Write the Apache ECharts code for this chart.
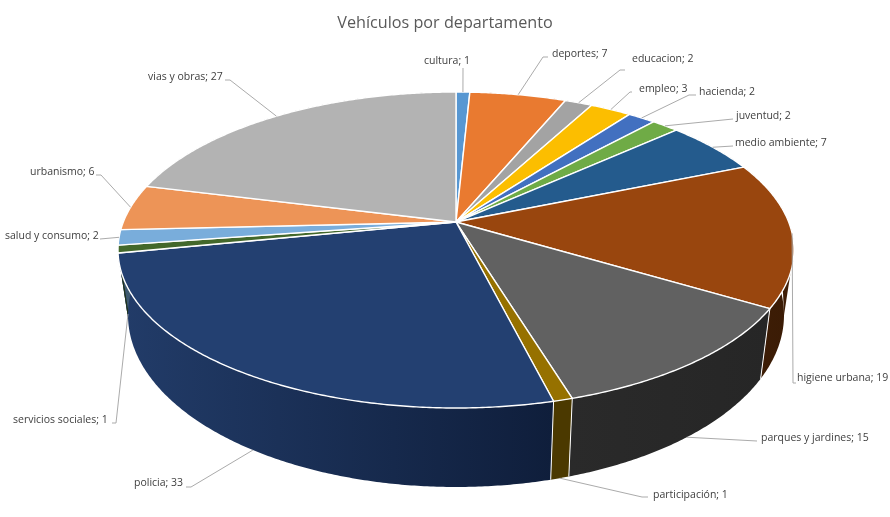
<!DOCTYPE html>
<html><head><meta charset="utf-8">
<style>html,body{margin:0;padding:0;background:#fff}#c{width:890px;height:517px}</style>
<script src="https://cdn.jsdelivr.net/npm/echarts@6/dist/echarts.min.js"></script>
</head><body><div id="c"></div>
<script>
// DATA
const departments = ['cultura','deportes','educacion','empleo','hacienda','juventud','medio ambiente','higiene urbana','parques y jardines','participación','policia','servicios sociales','salud y consumo','urbanismo','vias y obras'];
const vehicles = [1,7,2,3,2,2,7,19,15,1,33,1,2,6,27];
const chartTitle = 'Vehículos por departamento';

// STYLE
const topColors = ['#5797D2','#E97A30','#A3A3A3','#FCBE00','#4270C0','#6FAB46','#245B8D','#99460E','#616161','#967100','#234071','#43682B','#79ADDB','#ED9457','#B3B3B3'];
const wallColors = [['#2f5070','#2f5070'],['#7a3f18','#7a3f18'],['#555555','#555555'],['#806000','#806000'],['#223a64','#223a64'],['#38581f','#38581f'],['#12304a','#12304a'],['#3F1E06','#3A1B05'],['#2A2A2A','#262626'],['#4B3900','#4B3900'],['#223C69','#0F1E3B'],['#21351a','#21351a'],['#3e5a70','#3e5a70'],['#7a4b2d','#7a4b2d'],['#5c5c5c','#5c5c5c']];

// LAYOUT (perspective pie geometry + label placement)
const apexOffset = -0.177;
const topRim = {cx:456, cy:250, rx:338, ry:158};
const bottomRim = {cx:456, cy:315, rx:328, ry:172};
const labelX = [424,552,632,639,699,736,735,797,761,653,134,13,5,30,148];
const labelY = [61,54,59,89,92,116,143,378,438,495,483,420,236,172,77];
const labelElbows = [
  [[463,68]],
  [[548,57],[543,57]],
  [[625,70],[620,70]],
  [[632,92],[630,92]],
  [[696,95],[689,95]],
  [[733,119]],
  [[733,146]],
  [[796,383],[793,383]],
  [[757,441]],
  [[648,497],[642,497]],
  [[186,487],[191,487]],
  [[112,423],[116,423]],
  [[100,239]],
  [[96,175],[101,175]],
  [[225,80],[230,80]]
];
const labelFont = '10.5px "Open Sans"';

const total = vehicles.reduce((a,b)=>a+b,0);
const cumulative = vehicles.reduce((acc,v)=>{acc.push(acc[acc.length-1]+v);return acc;},[0]);

function project(value, rim){
  const t = value/total*2*Math.PI;
  const X = Math.sin(t), Y = -Math.cos(t), d = 1+apexOffset*Y;
  const u = X*Math.sqrt(1-apexOffset*apexOffset)/d, v = (Y+apexOffset)/d;
  return {p:[rim.cx+rim.rx*u, rim.cy+rim.ry*v], v:v};
}
function steps(i){
  const out=[], a=cumulative[i], b=cumulative[i+1], n=Math.max(4,Math.ceil((b-a)*6));
  for(let k=0;k<=n;k++) out.push(a+(b-a)*k/n);
  return out;
}
function arc(i, rim){ return steps(i).map(s=>project(s,rim).p); }
function apex(){ return [topRim.cx, topRim.cy+topRim.ry*apexOffset]; }

const chart = echarts.init(document.getElementById('c'),null,{renderer:'canvas'});
chart.setOption({
  animation:false,
  backgroundColor:'#fff',
  title:{text:chartTitle,left:'center',top:10,textStyle:{fontFamily:'Open Sans',fontSize:16.2,fontWeight:'normal',color:'#595959'}},
  series:[
    {type:'custom',coordinateSystem:'none',silent:true,z:1,data:vehicles,
      renderItem(params){
        const i=params.dataIndex, st=steps(i);
        const up=arc(i,topRim), low=arc(i,bottomRim), children=[];
        // silhouette filler where the wall turns at the far left / far right of the disc
        const vs=st.map(s=>project(s,topRim).v);
        let k0=-1, k1=-1;
        vs.forEach((v,k)=>{ if(k0<0||Math.abs(v)<Math.abs(vs[k0])) k0=k; if(v>0.25&&v<0.45&&k1<0) k1=k; });
        if(Math.abs(vs[k0])<0.1&&k1>=0){
          children.push({type:'polygon',shape:{points:[up[k0],low[k0],up[k1]]},style:{fill:wallColors[i][0]}});
        }
        children.push({type:'polygon',shape:{points:up.concat(low.slice().reverse())},style:{
          fill:new echarts.graphic.LinearGradient(0,0,1,0,[{offset:0,color:wallColors[i][0]},{offset:1,color:wallColors[i][1]}])}});
        if(vs[0]>0.02){
          children.push({type:'line',shape:{x1:up[0][0],y1:up[0][1],x2:low[0][0],y2:low[0][1]},style:{stroke:'#fff',lineWidth:1}});
        }
        return {type:'group',children};
      }},
    {type:'custom',coordinateSystem:'none',silent:true,z:2,data:vehicles,
      renderItem(params){
        const i=params.dataIndex;
        return {type:'polygon',shape:{points:[apex()].concat(arc(i,topRim))},style:{fill:topColors[i],stroke:'#fff',lineWidth:1.4,lineJoin:'round'}};
      }},
    {type:'custom',coordinateSystem:'none',silent:true,z:3,data:vehicles,
      renderItem(params,api){
        const i=params.dataIndex, mid=(cumulative[i]+cumulative[i+1])/2;
        const onTop=project(mid,topRim);
        const end=onTop.v>=-0.02?project(mid,bottomRim).p:onTop.p;
        return {type:'group',children:[
          {type:'polyline',shape:{points:labelElbows[i].concat([end])},style:{fill:null,stroke:'#ABABAB',lineWidth:1}},
          {type:'text',style:{text:departments[i]+'; '+api.value(0),x:labelX[i],y:labelY[i],fill:'#404040',font:labelFont,align:'left',verticalAlign:'middle'}}
        ]};
      }}
  ]
});
</script></body></html>
